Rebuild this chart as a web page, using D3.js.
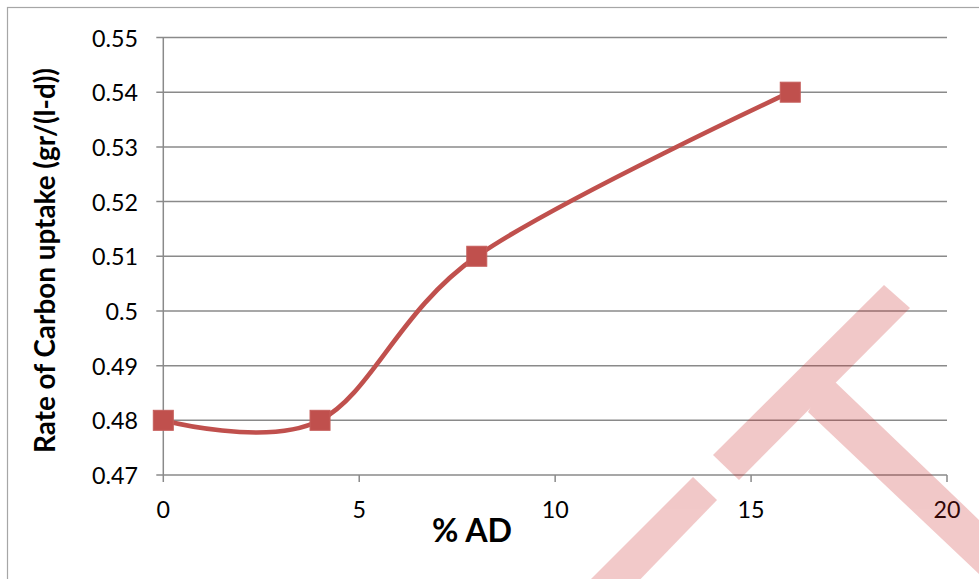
<!DOCTYPE html>
<html>
<head>
<meta charset="utf-8">
<script src="https://cdn.jsdelivr.net/npm/d3@7"></script>
<style>
  html, body { margin: 0; padding: 0; background: #fff; }
  svg { display: block; }
  text { font-family: Lato, "Open Sans", sans-serif; fill: #000; }
</style>
</head>
<body>
<svg id="chart" width="979" height="579"></svg>
<script>
// ---- data ----
const xValues = [0, 4, 8, 16];
const yValues = [0.48, 0.48, 0.51, 0.54];
const xTickValues = [0, 5, 10, 15, 20];
const yTickValues = [0.47, 0.48, 0.49, 0.50, 0.51, 0.52, 0.53, 0.54, 0.55];
const yTickLabels = ["0.47", "0.48", "0.49", "0.5", "0.51", "0.52", "0.53", "0.54", "0.55"];
const xTitle = "% AD";
const yTitle = "Rate of Carbon uptake (gr/(l-d))";

// ---- layout ----
const W = 979, H = 579;
const plot = { left: 163.3, right: 947, top: 37.5, bottom: 475 };
const svg = d3.select("#chart");

const x = d3.scaleLinear().domain([0, 20]).range([plot.left, plot.right]);
const y = d3.scaleLinear().domain([0.47, 0.55]).range([plot.bottom, plot.top]);

const gridColor = "#8a8a8a";
const seriesColor = "#C0504D";

// outer chart border
svg.append("rect")
  .attr("x", 7.5).attr("y", 7.5)
  .attr("width", W + 20).attr("height", H + 20)
  .attr("fill", "none").attr("stroke", "#a6a6a6").attr("stroke-width", 1.2);

// fit text width helper
function fit(sel, target, base) {
  sel.style("font-size", base + "px");
  const w = sel.node().getComputedTextLength();
  sel.style("font-size", (base * target / w) + "px");
}

// horizontal gridlines
svg.append("g").selectAll("line").data(yTickValues).join("line")
  .attr("x1", plot.left - 7).attr("x2", plot.right)
  .attr("y1", d => y(d)).attr("y2", d => y(d))
  .attr("stroke", gridColor).attr("stroke-width", 1.5);

// y axis line
svg.append("line")
  .attr("x1", plot.left).attr("x2", plot.left)
  .attr("y1", plot.top).attr("y2", plot.bottom)
  .attr("stroke", gridColor).attr("stroke-width", 1.5);

// x axis ticks
svg.append("g").selectAll("line").data(xTickValues).join("line")
  .attr("x1", d => x(d)).attr("x2", d => x(d))
  .attr("y1", plot.bottom).attr("y2", plot.bottom + 7)
  .attr("stroke", gridColor).attr("stroke-width", 1.5);

// y tick labels
const yl = svg.append("g").selectAll("text").data(yTickValues).join("text")
  .attr("x", 138).attr("y", d => y(d) + 9)
  .attr("text-anchor", "end")
  .text((d, i) => yTickLabels[i]);
yl.style("font-size", "20px");
{
  const ref = yl.filter((d, i) => i === yTickValues.length - 1);
  const w = ref.node().getComputedTextLength();
  yl.style("font-size", (20 * 46 / w) + "px");
}

// x tick labels
svg.append("g").selectAll("text").data(xTickValues).join("text")
  .attr("x", d => x(d)).attr("y", plot.bottom + 43)
  .attr("text-anchor", "middle")
  .style("font-size", yl.style("font-size"))
  .text(d => d);

// axis titles
const xt = svg.append("text")
  .attr("x", 472).attr("y", 542)
  .attr("text-anchor", "middle")
  .style("font-weight", "bold")
  .text(xTitle);
fit(xt, 80, 34);

const yt = svg.append("text")
  .attr("transform", "translate(55,260.5) rotate(-90)")
  .attr("text-anchor", "middle")
  .style("font-weight", "bold")
  .text(yTitle);
fit(yt, 385, 28);

// series line
const pts = xValues.map((v, i) => [v, yValues[i]]);
const line = d3.line()
  .x(d => x(d[0])).y(d => y(d[1]))
  .curve(d3.curveCardinal.tension(0));
svg.append("path")
  .attr("d", line(pts))
  .attr("fill", "none")
  .attr("stroke", seriesColor)
  .attr("stroke-width", 4.6)
  .attr("stroke-linejoin", "round");

// markers
const ms = 20;
svg.append("g").selectAll("rect").data(pts).join("rect")
  .attr("x", d => x(d[0]) - ms / 2).attr("y", d => y(d[1]) - ms / 2)
  .attr("width", ms).attr("height", ms)
  .attr("fill", seriesColor)
  .attr("stroke", "#c65e5b").attr("stroke-width", 1);

// watermark decoration (semi-transparent)
const wm = svg.append("g").attr("opacity", 0.24).attr("fill", "rgb(200,30,30)");
wm.append("path").attr("d", "M884,285 L910,308 L739,480 L713,455 Z");
wm.append("path").attr("d", "M845,360 L818,394 L808,412 L1000,594 L1000,540 L833,380 Z");
wm.append("path").attr("d", "M693,477 L717,500 L628,592 L578,592 Z");
</script>
</body>
</html>
